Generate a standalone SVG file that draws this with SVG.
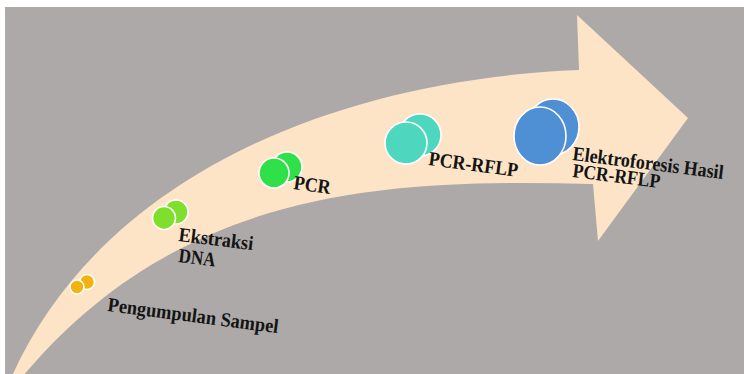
<svg xmlns="http://www.w3.org/2000/svg" width="744" height="374" viewBox="0 0 744 374">
  <style>
    .bg { fill: #ada9a8; }
    .arrow { fill: #fde4c7; }
    .c { stroke: #ffffff; stroke-width: 1.6; }
    .lbl { font-family: "Liberation Serif", "Times New Roman", serif; font-weight: bold; font-size: 20px; fill: #141414; }
  </style>
  <rect x="0" y="0" width="744" height="374" fill="#ffffff"/>
  <rect class="bg" x="5" y="7" width="739" height="367"/>
  <g id="connectors">
    <path class="arrow" d="M12,376 C100,180 330,80 579,70 L577,15 L688,118 L598,241 L593,184 C380,178 180,190 23,376 Z"/>
  </g>
  <g id="node-pengumpulan">
    <circle class="c" cx="87" cy="282" r="7.5" fill="#f2b310"/>
    <circle class="c" cx="77" cy="287" r="7" fill="#f2b310"/>
    <text class="lbl" x="107" y="311" textLength="172" lengthAdjust="spacingAndGlyphs" transform="rotate(7.4 107 311)">Pengumpulan Sampel</text>
  </g>
  <g id="node-ekstraksi">
    <circle class="c" cx="176" cy="212" r="12" fill="#80df2c"/>
    <circle class="c" cx="164" cy="218" r="11.5" fill="#80df2c"/>
    <text class="lbl" x="178" y="241" textLength="75" lengthAdjust="spacingAndGlyphs" transform="rotate(7 178 241)">Ekstraksi</text>
    <text class="lbl" x="178" y="262" textLength="37" lengthAdjust="spacingAndGlyphs" transform="rotate(7 178 262)">DNA</text>
  </g>
  <g id="node-pcr">
    <circle class="c" cx="287" cy="167" r="15" fill="#2fe049"/>
    <circle class="c" cx="274" cy="173" r="15" fill="#2fe049"/>
    <text class="lbl" x="293" y="189" textLength="37" lengthAdjust="spacingAndGlyphs" transform="rotate(8 293 189)">PCR</text>
  </g>
  <g id="node-pcr-rflp">
    <circle class="c" cx="420" cy="135" r="21" fill="#4ed7bf"/>
    <circle class="c" cx="406" cy="143" r="21" fill="#4ed7bf"/>
    <text class="lbl" x="428" y="165" textLength="90" lengthAdjust="spacingAndGlyphs" transform="rotate(7.6 428 165)">PCR-RFLP</text>
  </g>
  <g id="node-elektroforesis">
    <ellipse class="c" cx="553" cy="127" rx="26" ry="28" fill="#4f8fd4"/>
    <ellipse class="c" cx="540" cy="136" rx="26" ry="29" fill="#4f8fd4"/>
    <text class="lbl" x="572" y="160" textLength="152" lengthAdjust="spacingAndGlyphs" transform="rotate(7.2 572 160)">Elektroforesis Hasil</text>
    <text class="lbl" x="572" y="177" textLength="88" lengthAdjust="spacingAndGlyphs" transform="rotate(7.2 572 177)">PCR-RFLP</text>
  </g>
</svg>
